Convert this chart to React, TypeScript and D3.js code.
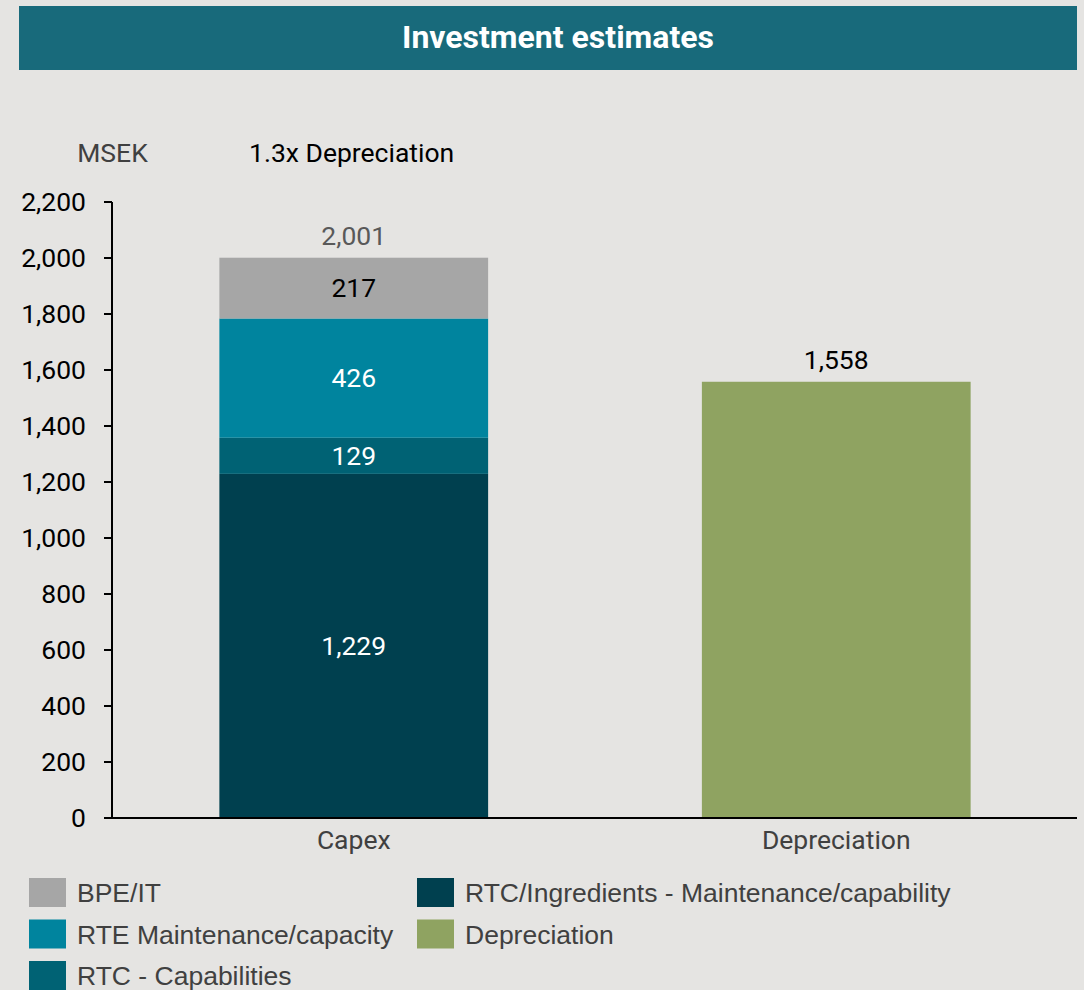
import React from "react";
import * as d3 from "d3";

const categories = ["Capex", "Depreciation"];
const seriesNames = [
  "RTC/Ingredients - Maintenance/capability",
  "RTC - Capabilities",
  "RTE Maintenance/capacity",
  "BPE/IT",
  "Depreciation",
];
const capexValues = [1229, 129, 426, 217, 0];
const depreciationValues = [0, 0, 0, 0, 1558];
const totals = ["2,001", "1,558"];
const yTicks = [0, 200, 400, 600, 800, 1000, 1200, 1400, 1600, 1800, 2000, 2200];
const colors = ["#00404f", "#006274", "#00849e", "#a6a6a6", "#8fa361"];
const labelColors = ["#ffffff", "#ffffff", "#ffffff", "#000000", "#000000"];
const legendOrder = [
  ["BPE/IT", "RTE Maintenance/capacity", "RTC - Capabilities"],
  ["RTC/Ingredients - Maintenance/capability", "Depreciation"],
];

const W = 1084;
const H = 990;
const FONT = "Roboto, sans-serif";
const LEGEND_FONT = "'Liberation Sans', Arial, sans-serif";
const FS = 26.5;

export default function App() {
  const y = d3.scaleLinear().domain([0, 2200]).range([818, 202]);
  const x = d3.scaleBand().domain(categories).range([112.5, 1077.5]).paddingInner(0.443).paddingOuter(0.2215);
  const fmt = d3.format(",");
  const rows = [capexValues, depreciationValues];

  const bars: any[] = [];
  rows.forEach((vals, ci) => {
    let acc = 0;
    vals.forEach((v, si) => {
      if (v <= 0) return;
      const y0 = acc;
      const y1 = acc + v;
      acc = y1;
      bars.push({ ci, si, y0, y1, v });
    });
  });

  return (
    <svg width={W} height={H} style={{ position: "absolute", left: 0, top: 0 }}>
      <rect x={0} y={0} width={W} height={H} fill="#e5e4e2" />
      <rect x={19} y={6} width={1058} height={64} fill="#186a7b" />
      <text x={558} y={48} textAnchor="middle" fill="#ffffff" fontFamily={FONT} fontWeight="bold" fontSize={32}>
        Investment estimates
      </text>
      <text x={112.5} y={162} textAnchor="middle" fill="#404040" fontFamily={FONT} fontSize={FS}>MSEK</text>
      <text x={249} y={162} fill="#000000" fontFamily={FONT} fontSize={FS}>1.3x Depreciation</text>

      {bars.map((b, i) => {
        const x0 = x(categories[b.ci])!;
        const top = y(b.y1);
        const bottom = y(b.y0);
        return (
          <g key={i}>
            <rect x={x0} y={top} width={x.bandwidth()} height={bottom - top} fill={colors[b.si]} />
            {b.ci === 0 && (
              <text x={x0 + x.bandwidth() / 2} y={(top + bottom) / 2 + 9} textAnchor="middle"
                fill={labelColors[b.si]} fontFamily={FONT} fontSize={FS}>
                {fmt(b.v)}
              </text>
            )}
          </g>
        );
      })}

      {categories.map((c, ci) => {
        const total = d3.sum(rows[ci]);
        return (
          <text key={c} x={x(c)! + x.bandwidth() / 2} y={y(total) - 13} textAnchor="middle"
            fill={ci === 0 ? "#595959" : "#000000"} fontFamily={FONT} fontSize={FS}>
            {totals[ci]}
          </text>
        );
      })}

      {/* y axis */}
      <line x1={112} x2={112} y1={y(2200)} y2={y(0)} stroke="#000" strokeWidth={2} />
      {yTicks.map((t) => (
        <g key={t}>
          <line x1={104} x2={112} y1={y(t)} y2={y(t)} stroke="#000" strokeWidth={2} />
          <text x={86} y={y(t) + 9} textAnchor="end" fill="#000" fontFamily={FONT} fontSize={FS}>
            {fmt(t)}
          </text>
        </g>
      ))}
      {/* x axis */}
      <line x1={104} x2={1077} y1={y(0)} y2={y(0)} stroke="#000" strokeWidth={2} />
      {categories.map((c) => (
        <text key={c} x={x(c)! + x.bandwidth() / 2} y={849} textAnchor="middle" fill="#404040" fontFamily={FONT} fontSize={FS}>
          {c}
        </text>
      ))}

      {/* legend */}
      {legendOrder.map((col, ci) =>
        col.map((name, ri) => {
          const si = seriesNames.indexOf(name);
          const lx = ci === 0 ? 29 : 417;
          const ly = 878 + ri * 41.5;
          return (
            <g key={name}>
              <rect x={lx} y={ly} width={37} height={29} fill={colors[si]} />
              <text x={lx + 48} y={ly + 24} fill="#404040" fontFamily={LEGEND_FONT} fontSize={FS}>
                {name}
              </text>
            </g>
          );
        })
      )}
    </svg>
  );
}
